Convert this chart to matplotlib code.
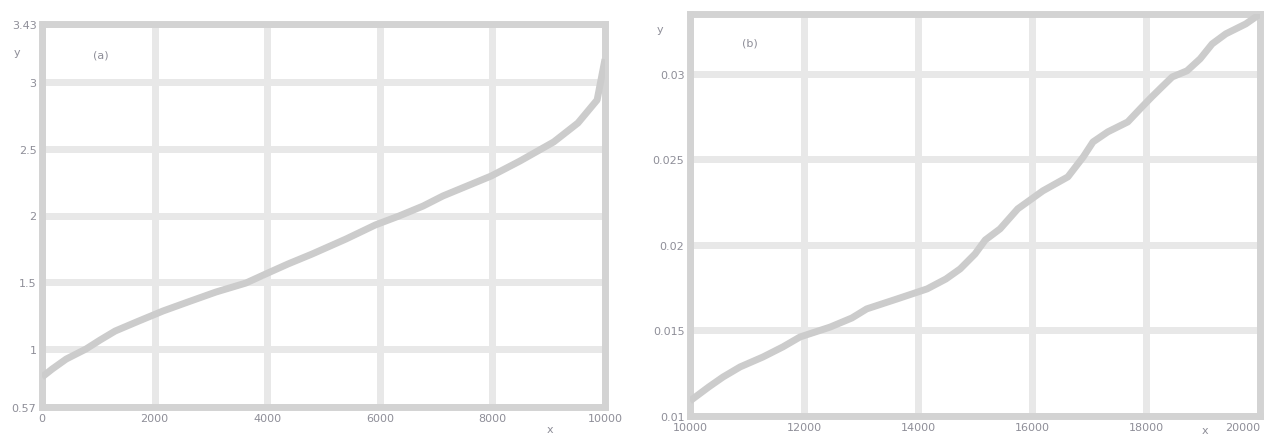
import matplotlib
matplotlib.use("Agg")
import matplotlib.pyplot as plt
import numpy as np

# ---- data ----
left_x = [0, 180, 430, 780, 1030, 1300, 1720, 2150, 2590, 3090, 3620, 4010,
          4370, 4800, 5400, 5920, 6340, 6770, 7120, 7550, 7980, 8490, 9090,
          9520, 9860, 10000]
left_y = [0.79, 0.85, 0.925, 1.0, 1.067, 1.135, 1.21, 1.285, 1.352, 1.427,
          1.494, 1.569, 1.637, 1.712, 1.824, 1.929, 1.996, 2.071, 2.146,
          2.221, 2.296, 2.408, 2.551, 2.693, 2.865, 3.17]
left_xticks = [0, 2000, 4000, 6000, 8000, 10000]
left_yticks = [0.566, 1.0, 1.5, 2.0, 2.5, 3.0, 3.434]
left_ytick_labels = ["0.57", "1", "1.5", "2", "2.5", "3", "3.43"]

right_x = [10000, 10330, 10580, 10880, 11280, 11630, 11930, 12460, 12840,
           13100, 13630, 14160, 14490, 14740, 15000, 15180, 15440, 15750,
           16190, 16630, 16900, 17070, 17330, 17680, 17930, 18100, 18280,
           18460, 18720, 18950, 19160, 19400, 19750, 20000]
right_y = [0.01088, 0.0117, 0.01228, 0.01287, 0.01345, 0.01404, 0.01462,
           0.0152, 0.01573, 0.01626, 0.01684, 0.01743, 0.01801, 0.0186,
           0.01947, 0.02029, 0.02094, 0.02211, 0.02316, 0.02398, 0.02515,
           0.02602, 0.02661, 0.02719, 0.02807, 0.02865, 0.02924, 0.02982,
           0.03018, 0.03088, 0.03175, 0.03234, 0.03292, 0.0335]
right_xticks = [10000, 12000, 14000, 16000, 18000, 20000]
right_yticks = [0.01, 0.015, 0.02, 0.025, 0.03]
right_ytick_labels = ["0.01", "0.015", "0.02", "0.025", "0.03"]

panel_labels = ["(a)", "(b)"]
x_label = "x"
y_label = "y"

# ---- style ----
W, H = 1266, 439
spine_c = "#d3d3d3"
grid_c = "#e8e8e8"
line_c = "#cccccc"
text_c = "#8e8e98"
fs = 8

fig = plt.figure(figsize=(W / 100, H / 100), dpi=100)


def px_rect(x0, y0, x1, y1):
    return [x0 / W, (H - y1) / H, (x1 - x0) / W, (y1 - y0) / H]


def style(ax):
    for s in ax.spines.values():
        s.set_color(spine_c)
        s.set_linewidth(5)
    ax.grid(True, color=grid_c, linewidth=5)
    ax.set_axisbelow(True)
    ax.tick_params(length=0, colors=text_c, labelsize=fs, pad=4)


axL = fig.add_axes(px_rect(42, 25, 605, 408))
axL.plot(left_x, left_y, color=line_c, linewidth=5, solid_capstyle="butt", zorder=3)
axL.set_xlim(0, 10000)
axL.set_ylim(left_yticks[0], left_yticks[-1])
axL.set_xticks(left_xticks)
axL.set_xticklabels([str(v) for v in left_xticks])
axL.set_yticks(left_yticks)
axL.set_yticklabels(left_ytick_labels)
style(axL)
axL.text(0.105, 0.92, panel_labels[0], transform=axL.transAxes, ha="center",
         va="center", color=text_c, fontsize=fs)
axL.annotate(x_label, xy=(0.902, 0), xycoords="axes fraction", xytext=(0, -16),
             textcoords="offset points", ha="center", va="center",
             color=text_c, fontsize=fs)
fig.text(17 / W, 1 - 53 / H, y_label, ha="center", va="center", color=text_c,
         fontsize=fs)

axR = fig.add_axes(px_rect(690, 15, 1260, 417))
axR.plot(right_x, right_y, color=line_c, linewidth=5, solid_capstyle="butt", zorder=3)
axR.set_xlim(10000, 20000)
axR.set_ylim(0.01, 0.0335)
axR.set_xticks(right_xticks)
axR.set_xticklabels([str(v) for v in right_xticks])
axR.set_yticks(right_yticks)
axR.set_yticklabels(right_ytick_labels)
style(axR)
last = axR.get_xticklabels()[-1]
last.set_horizontalalignment("right")
axR.text(0.105, 0.93, panel_labels[1], transform=axR.transAxes, ha="center",
         va="center", color=text_c, fontsize=fs)
axR.annotate(x_label, xy=(0.904, 0), xycoords="axes fraction", xytext=(0, -10),
             textcoords="offset points", ha="center", va="center",
             color=text_c, fontsize=fs)
fig.text(660 / W, 1 - 30 / H, y_label, ha="center", va="center", color=text_c,
         fontsize=fs)

fig.savefig("out.png", dpi=100)
